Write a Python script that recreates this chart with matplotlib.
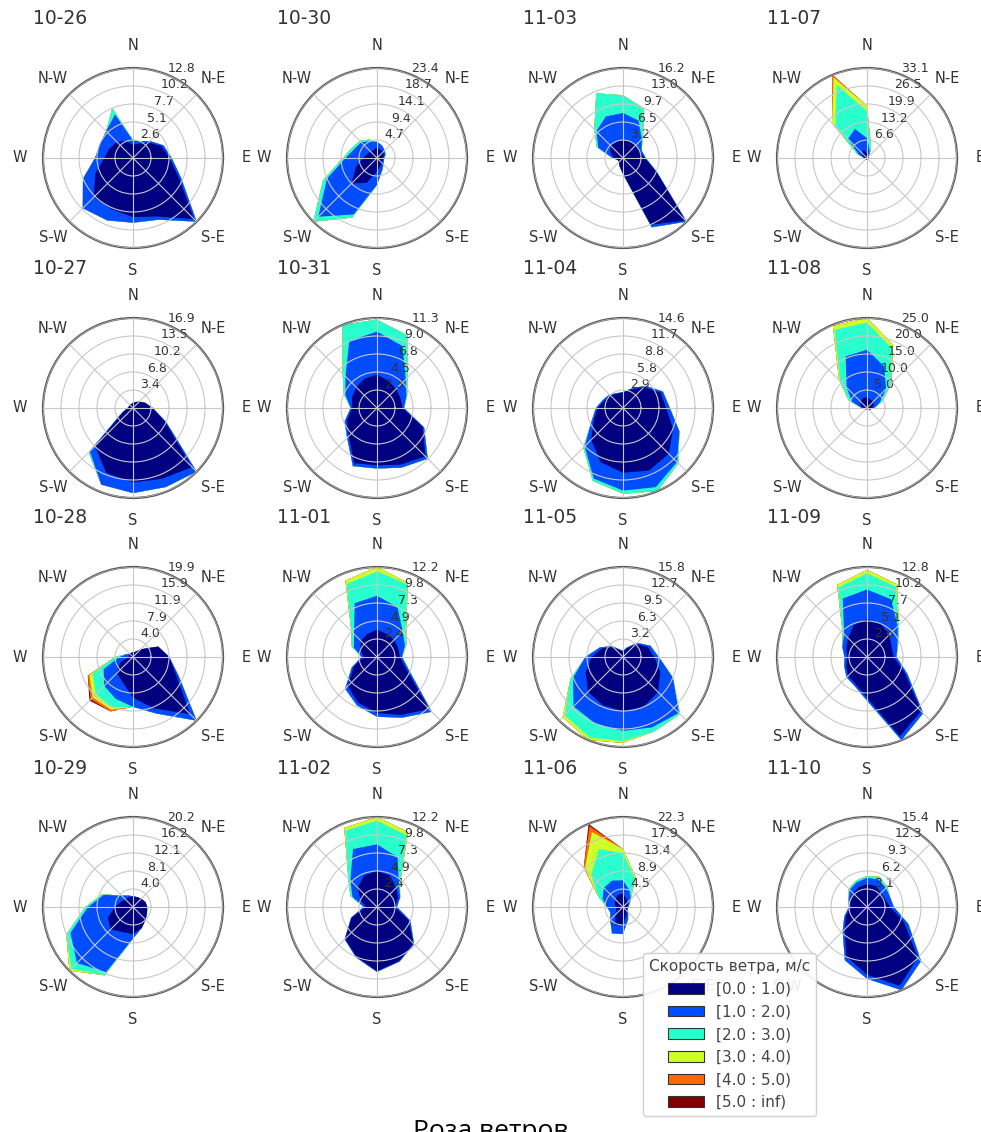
import numpy as np
import matplotlib.pyplot as plt
from matplotlib.patches import Rectangle

plt.rcParams['font.family'] = ['DejaVu Sans']

# 16 sectors, clockwise from north
directions = ['N', 'NNE', 'NE', 'ENE', 'E', 'ESE', 'SE', 'SSE',
              'S', 'SSW', 'SW', 'WSW', 'W', 'WNW', 'NW', 'NNW']
compass = ['E', 'N-E', 'N', 'N-W', 'W', 'S-W', 'S', 'S-E']
bin_labels = ['[0.0 : 1.0)', '[1.0 : 2.0)', '[2.0 : 3.0)',
              '[3.0 : 4.0)', '[4.0 : 5.0)', '[5.0 : inf)']

# frequency, % per sector; each row lists the speed bins from the lowest up
f_10_26 = [[1.9, 0.6], [2.2, 0.4], [3.1, 0.3], [4.4, 0.3], [5.2, 0.3], [7.0, 0.4],
           [12.3, 0.5], [9.0, 0.5], [8.4, 0.8], [7.9, 1.7], [7.9, 2.2], [5.8, 1.9],
           [4.1, 1.3], [3.6, 1.5], [3.2, 2.2], [2.6, 4.1, 1.0]]
f_10_27 = [[1.0], [1.2], [1.7], [2.5], [3.7], [6.4, 0.3],
           [15.73, 1.2], [14.4, 1.7], [14.0, 2.0], [13.2, 2.4], [10.1, 1.4, 0.3], [2.0, 0.2],
           [1.0], [0.8], [0.8], [0.8]]
f_10_28 = [[1.0], [1.2], [2.4], [6.0], [8.0], [10.3, 0.6],
           [17.86, 2.0], [12.3, 1.2], [9.0, 2.0], [6.0, 4.0, 2.0, 0.6, 0.4],
           [5.0, 4.0, 2.6, 1.0, 0.6, 0.4], [3.0, 4.0, 2.6, 0.8, 0.4],
           [1.0, 2.0, 1.0], [1.0, 0.6], [1.0], [1.0]]
f_10_29 = [[2.4], [2.4], [2.6], [3.0], [3.2], [3.4],
           [4.0], [5.1], [6.1, 1.0], [6.1, 9.7, 0.8], [7.1, 10.7, 1.8, 0.6], [6.1, 9.1, 1.0],
           [4.0, 6.1, 0.6], [3.0, 4.1, 0.4], [2.4, 1.2], [2.4, 0.4]]
f_10_30 = [[2.8, 1.4], [2.3, 1.2], [2.3, 0.5], [1.9, 0.5], [1.6, 0.3], [1.6, 0.3],
           [1.9, 0.5], [2.3, 1.2], [3.5, 3.5], [7.0, 8.9, 0.9], [9.4, 12.23, 1.8], [5.9, 8.2, 1.1],
           [3.5, 4.7, 0.7], [2.8, 3.5, 0.7], [2.3, 3.5, 0.5], [2.3, 2.4, 0.5]]
f_10_31 = [[4.2, 5.4, 1.5], [3.7, 4.7, 1.5], [3.4, 1.7, 0.3], [3.2, 0.8, 0.1], [3.2, 0.2], [6.2, 0.2],
           [8.6, 0.4], [7.7, 0.4], [7.2, 0.4], [7.5, 0.4], [5.0, 0.3], [4.1, 0.3],
           [3.1, 0.2], [3.4, 0.9, 0.2], [3.7, 1.9, 0.5], [4.0, 5.1, 2.2]]
f_11_01 = [[3.7, 4.6, 3.3, 0.6], [3.4, 3.9, 3.4, 0.2], [3.3, 1.6, 0.6, 0.1], [3.1, 1.0, 0.2],
           [3.1, 0.3], [4.3, 0.4], [10.0, 0.5], [8.5, 0.4], [7.6, 0.5], [6.7, 0.4], [5.6, 0.5],
           [3.4, 0.3], [1.8, 0.3], [2.4, 1.0, 0.3], [3.1, 1.3, 0.5], [3.4, 4.5, 2.8, 0.5]]
f_11_02 = [[4.9, 3.6, 3.2, 0.5], [4.6, 2.7, 3.2, 0.5], [3.7, 0.5, 0.2], [3.1, 0.3],
           [2.4, 0.3], [4.6, 0.3], [7.0, 0.1], [7.9, 0.1], [8.7, 0.1], [7.3, 0.1], [6.1, 0.1],
           [3.7, 0.1], [1.5, 0.3], [2.4, 1.2, 0.3], [3.7, 1.4, 0.4], [4.6, 3.9, 2.7, 0.4]]
f_11_03 = [[3.2, 4.9, 3.2], [3.2, 4.1, 2.4], [3.2, 1.6, 0.3], [3.2, 0.4], [3.9, 0.2], [6.5, 0.1],
           [15.9, 0.3], [13.0, 0.5], [2.8, 0.1], [1.6], [1.0], [1.0],
           [1.6, 0.3], [2.4, 2.4, 0.3], [3.2, 3.6, 0.5], [3.2, 4.9, 4.5]]
f_11_04 = [[2.5, 0.1], [3.2, 0.2], [4.8, 0.3], [6.6, 0.4], [7.0, 0.6], [8.8, 1.1],
           [10.5, 1.9, 0.3], [11.0, 2.9, 0.7], [10.5, 2.9, 0.5], [9.5, 2.9, 0.4], [7.3, 1.5, 0.3],
           [5.1, 0.4], [4.1, 0.3], [3.2, 0.3], [2.9, 0.2], [2.5, 0.1]]
f_11_05 = [[0.9, 0.2], [1.6, 0.2], [3.2, 0.3], [4.7, 0.5], [5.5, 0.8], [7.1, 2.4],
           [8.7, 5.2, 0.3], [9.5, 3.9, 0.8], [9.5, 3.5, 1.8, 0.3], [9.2, 3.5, 2.63, 0.5],
           [8.7, 3.6, 2.2, 0.5], [7.1, 2.4, 0.5], [5.5, 1.1], [4.0, 0.4], [2.4, 0.3], [1.3, 0.1]]
f_11_06 = [[3.3, 3.3, 6.7, 1.1], [2.2, 2.2, 3.3, 0.4], [1.8, 0.9], [1.3, 0.4], [1.1, 0.2],
           [1.1, 0.2], [1.3, 0.5], [2.2, 1.1], [4.5, 2.2], [4.9, 2.2], [2.7, 1.8], [1.8, 1.6],
           [1.8, 2.2], [2.2, 3.3, 1.1], [2.7, 4.0, 4.5, 2.2, 0.4], [3.3, 3.8, 8.5, 4.53, 1.6, 0.6]]
f_11_07 = [[1.7, 5.6, 9.9, 2.0], [1.0, 1.7, 1.3], [0.7, 0.3], [0.7], [0.7], [0.7],
           [0.7], [0.7], [0.7], [0.7], [0.7], [0.7],
           [1.0], [1.7, 1.6, 0.7], [2.6, 7.3, 6.6, 1.7], [3.3, 8.3, 17.5, 3.0, 1.0]]
f_11_08 = [[3.0, 13.2, 7.5, 1.3], [2.5, 10.0, 5.5, 1.0], [2.5, 5.0, 1.8, 0.2], [2.0, 1.8, 0.7],
           [1.5, 0.5], [1.0], [0.8], [0.5], [0.5], [0.5], [0.5], [0.5],
           [1.0, 0.5], [2.0, 2.5, 1.0], [2.5, 5.5, 2.5, 0.5], [3.0, 12.5, 8.0, 1.2]]
f_11_09 = [[5.4, 4.2, 2.3, 0.5], [5.1, 3.8, 1.9, 0.4], [4.5, 1.7, 0.2], [3.8, 0.9, 0.1],
           [3.8, 0.4], [5.8, 0.4], [10.9, 0.4], [12.2, 0.6], [5.8, 0.4], [4.2, 0.3], [3.8, 0.3],
           [3.2, 0.3], [2.8, 0.4], [3.2, 0.6], [3.8, 0.8, 0.3], [4.9, 4.1, 1.7, 0.4]]
f_11_10 = [[3.9, 1.1, 0.3], [3.9, 1.2, 0.5], [3.4, 1.2, 0.3], [3.4, 0.9], [4.0, 0.6], [6.9, 0.8],
           [12.3, 0.8], [14.63, 0.8], [11.6, 0.7], [9.2, 0.7], [5.4, 0.5], [3.9, 0.3],
           [2.8, 0.3], [3.1, 0.3], [3.4, 0.8, 0.2], [3.7, 0.9, 0.3]]

days = ['10-26', '10-27', '10-28', '10-29', '10-30', '10-31', '11-01', '11-02',
        '11-03', '11-04', '11-05', '11-06', '11-07', '11-08', '11-09', '11-10']
roses = [f_10_26, f_10_27, f_10_28, f_10_29, f_10_30, f_10_31, f_11_01, f_11_02,
         f_11_03, f_11_04, f_11_05, f_11_06, f_11_07, f_11_08, f_11_09, f_11_10]

colors = plt.cm.jet(np.linspace(0, 1, len(bin_labels)))
text_color = '#333333'

W, H = 981, 1132
col_x = [133, 377, 623, 867]
row_y = [158, 408, 657, 907]
R = 90

fig = plt.figure(figsize=(W / 100, H / 100), dpi=100)

# sector angles in matplotlib polar coords (0 = east, counter-clockwise)
theta = np.pi / 2 - np.arange(len(directions)) * 2 * np.pi / len(directions)
theta = np.append(theta, theta[0])

for k, (day, rows) in enumerate(zip(days, roses)):
    col, row = divmod(k, 4)
    cx, cy = col_x[col], row_y[row]
    ax = fig.add_axes([(cx - R) / W, (H - cy - R) / H, 2 * R / W, 2 * R / H],
                      projection='polar')

    table = np.zeros((len(bin_labels), len(directions)))
    for j, r in enumerate(rows):
        table[:len(r), j] = r
    cum = np.cumsum(table, axis=0)

    # lower speed bins lie on top of the higher ones
    for i in range(len(bin_labels)):
        rr = np.append(cum[i], cum[i][0])
        ax.fill(theta, rr, facecolor=colors[i], edgecolor='none',
                zorder=1 + (len(bin_labels) - i) * 0.1)

    rmax = cum[-1].max()
    radii = np.linspace(0, rmax, 6)[1:]
    ax.set_thetagrids(np.arange(0, 360, 45), compass)
    ax.set_rgrids(radii, labels=['%.1f' % v for v in radii], angle=67.5)
    ax.set_ylim(0, rmax)
    ax.set_axisbelow(False)
    ax.grid(color='#c8c8c8', linewidth=0.8)
    ax.spines['polar'].set_color('#5a5a5a')
    ax.spines['polar'].set_linewidth(1.6)
    ax.tick_params(axis='x', pad=6, labelsize=10.5, labelcolor=text_color)
    ax.tick_params(axis='y', labelsize=9, labelcolor=text_color)

    fig.text((cx - 100) / W, 1 - (cy - 139) / H, day, ha='left', va='center',
             fontsize=13.5, color=text_color)

handles = [Rectangle((0, 0), 1, 1, facecolor=c, edgecolor='#333333', linewidth=0.8)
           for c in colors]
leg = fig.legend(handles, bin_labels, title='Скорость ветра, м/с', loc='upper left',
                 bbox_to_anchor=(643 / W, 1 - 953 / H), borderaxespad=0,
                 fontsize=11, title_fontsize=11, handlelength=2.3, framealpha=0.9)
for t in leg.get_texts():
    t.set_color('#444444')
leg.get_title().set_color('#444444')

fig.text(0.5, 1 - 1138 / H, 'Роза ветров', ha='center', va='baseline',
         fontsize=19, family=['Open Sans', 'DejaVu Sans'], color='black')

fig.savefig('out.png', dpi=100)
